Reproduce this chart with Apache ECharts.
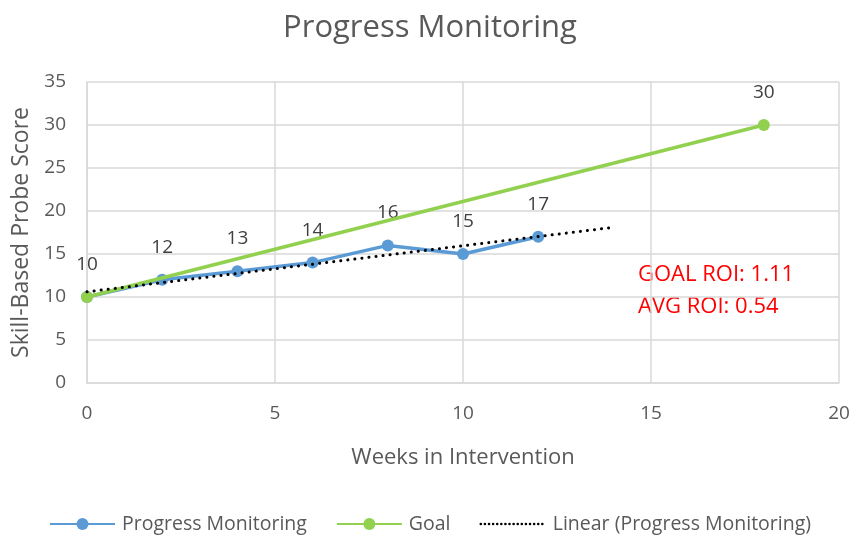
<!DOCTYPE html>
<html><head><meta charset="utf-8">
<script src="https://cdn.jsdelivr.net/npm/echarts@6/dist/echarts.min.js"></script>
<style>html,body{margin:0;padding:0;background:#fff}#c{width:860px;height:537px}</style>
</head><body><div id="c"></div>
<script>
const weeks = [0, 2, 4, 6, 8, 10, 12];
const progress = [10, 12, 13, 14, 16, 15, 17];
const goalWeeks = [0, 18];
const goalScores = [10, 30];
const trendWeeks = [0, 14];
const trendScores = [10.6, 18.1];
const roiTexts = ['GOAL ROI: 1.11', 'AVG ROI: 0.54'];

const FONT = '"Open Sans", sans-serif';
const chart = echarts.init(document.getElementById('c'));
chart.setOption({
  animation: false,
  title: {
    text: 'Progress Monitoring', left: 'center', top: 8,
    textStyle: { fontFamily: FONT, fontSize: 31, fontWeight: 'normal', color: '#595959' }
  },
  grid: { left: 87, right: 21, top: 82, bottom: 154, containLabel: false },
  legend: {
    top: 509, left: 'center', itemWidth: 65, itemHeight: 15, itemGap: 29,
    textStyle: { fontFamily: FONT, fontSize: 19.5, color: '#595959', padding: [0, 0, 0, 2] },
    data: [
      'Progress Monitoring',
      'Goal',
      { name: 'Linear (Progress Monitoring)', itemStyle: { opacity: 0 }, lineStyle: { type: [0.1, 4], width: 2.5, cap: 'round' } }
    ]
  },
  xAxis: {
    type: 'value', min: 0, max: 20, interval: 5,
    name: 'Weeks in Intervention', nameLocation: 'middle', nameGap: 64,
    nameTextStyle: { fontFamily: FONT, fontSize: 22, color: '#595959' },
    axisLine: { show: true, lineStyle: { color: '#d9d9d9', width: 1.5 } },
    axisTick: { show: false },
    axisLabel: { fontFamily: FONT, fontSize: 19, color: '#595959', margin: 21 },
    splitLine: { show: true, lineStyle: { color: '#d9d9d9', width: 1.5 } }
  },
  yAxis: {
    type: 'value', min: 0, max: 35, interval: 5,
    name: 'Skill-Based Probe Score', nameLocation: 'middle', nameGap: 50,
    nameTextStyle: { fontFamily: FONT, fontSize: 23, color: '#595959' },
    axisLine: { show: true, lineStyle: { color: '#d9d9d9', width: 1.5 } },
    axisTick: { show: false },
    axisLabel: { fontFamily: FONT, fontSize: 19, color: '#595959', margin: 21 },
    splitLine: { show: true, lineStyle: { color: '#d9d9d9', width: 1.5 } }
  },
  series: [
    {
      name: 'Progress Monitoring', type: 'line',
      data: weeks.map((w, i) => [w, progress[i]]),
      symbol: 'circle', symbolSize: 12,
      itemStyle: { color: '#5b9bd5' },
      lineStyle: { color: '#5b9bd5', width: 3.5 },
      label: { show: true, position: 'top', distance: 17, fontFamily: FONT, fontSize: 19, color: '#404040' },
      z: 3
    },
    {
      name: 'Goal', type: 'line',
      data: goalWeeks.map((w, i) => ({ value: [w, goalScores[i]], label: { show: i === goalWeeks.length - 1 } })),
      symbol: 'circle', symbolSize: 12,
      itemStyle: { color: '#92d050' },
      lineStyle: { color: '#92d050', width: 3.5 },
      label: { position: 'top', distance: 17, fontFamily: FONT, fontSize: 19, color: '#404040' },
      z: 4
    },
    {
      name: 'Linear (Progress Monitoring)', type: 'line',
      data: trendWeeks.map((w, i) => [w, trendScores[i]]),
      symbol: 'none', showSymbol: false,
      itemStyle: { color: '#000' },
      lineStyle: { color: '#000', width: 3, type: [0.1, 7], cap: 'round' },
      z: 5
    }
  ],
  graphic: [
    { type: 'text', left: 638, top: 264, style: { text: roiTexts[0], fontFamily: FONT, fontSize: 22, fill: '#ff0000' } },
    { type: 'text', left: 638, top: 296, style: { text: roiTexts[1], fontFamily: FONT, fontSize: 22, fill: '#ff0000' } }
  ]
});
</script>
</body></html>
